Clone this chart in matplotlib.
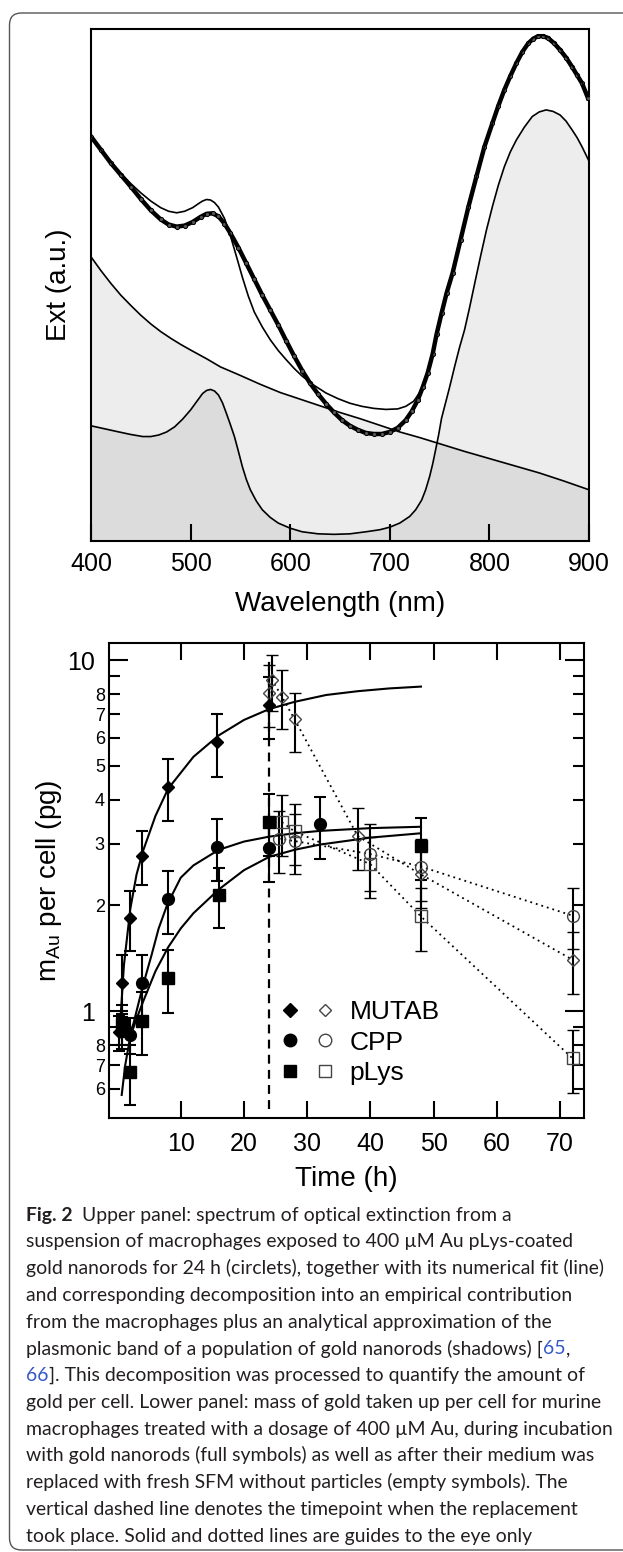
import matplotlib
matplotlib.use("Agg")
import matplotlib.pyplot as plt
import matplotlib.ticker as mticker
from matplotlib.lines import Line2D
from matplotlib.legend_handler import HandlerTuple
from matplotlib.patches import FancyBboxPatch
from matplotlib.transforms import IdentityTransform

plt.rcParams['font.family'] = ['Liberation Sans', 'DejaVu Sans']
plt.rcParams['mathtext.default'] = 'regular'

# ---------------- upper panel: extinction spectrum (a.u., 0 = frame bottom, 1 = frame top)
wl_data = [400, 410, 420, 430, 440, 450, 460, 470, 478, 486, 494, 502, 510, 516, 522, 528,
           534, 540, 548, 556, 564, 572, 580, 588, 596, 604, 612, 620, 628, 636, 644, 652,
           660, 668, 676, 684, 692, 700, 708, 716, 722, 728, 733, 738, 743, 747, 752, 757,
           763, 771, 779, 787, 795, 803, 809, 815, 821, 827, 833, 839, 844, 849, 854, 859,
           865, 871, 877, 883, 888, 893, 899]
ext_data = [0.790, 0.764, 0.738, 0.715, 0.692, 0.668, 0.646, 0.628, 0.618, 0.614, 0.616, 0.623,
            0.633, 0.639, 0.640, 0.634, 0.620, 0.601, 0.573, 0.542, 0.511, 0.480, 0.451, 0.422,
            0.391, 0.361, 0.333, 0.308, 0.287, 0.268, 0.251, 0.236, 0.225, 0.217, 0.211, 0.209,
            0.209, 0.213, 0.221, 0.236, 0.253, 0.275, 0.300, 0.328, 0.365, 0.404, 0.445, 0.484,
            0.523, 0.588, 0.653, 0.712, 0.770, 0.816, 0.850, 0.881, 0.908, 0.933, 0.955, 0.972,
            0.981, 0.986, 0.986, 0.982, 0.972, 0.959, 0.944, 0.926, 0.910, 0.894, 0.865]

wl_fit = [400, 410, 420, 430, 440, 450, 460, 470, 478, 486, 494, 502, 508, 512, 516, 520, 524,
          528, 534, 540, 546, 552, 558, 564, 572, 580, 588, 596, 604, 612, 624, 636, 648, 660,
          672, 684, 696, 708, 716, 724, 730, 736, 742, 747, 752, 757, 763, 771, 779, 787, 795,
          803, 809, 815, 821, 827, 833, 839, 844, 849, 854, 859, 865, 871, 877, 883, 888, 893, 900]
ext_fit = [0.790, 0.764, 0.740, 0.718, 0.698, 0.680, 0.664, 0.651, 0.644, 0.641, 0.644, 0.651,
           0.659, 0.664, 0.667, 0.666, 0.661, 0.652, 0.630, 0.596, 0.556, 0.515, 0.478, 0.447,
           0.418, 0.393, 0.372, 0.354, 0.337, 0.322, 0.304, 0.289, 0.278, 0.269, 0.263, 0.259,
           0.257, 0.258, 0.263, 0.273, 0.290, 0.316, 0.355, 0.400, 0.443, 0.484, 0.523, 0.588,
           0.653, 0.712, 0.770, 0.816, 0.851, 0.882, 0.910, 0.935, 0.956, 0.973, 0.983, 0.988,
           0.988, 0.985, 0.975, 0.962, 0.947, 0.930, 0.913, 0.896, 0.868]

# empirical macrophage contribution
wl_cell = [400, 410, 420, 430, 440, 450, 460, 470, 480, 490, 500, 516, 530, 548, 570, 590, 610,
           630, 650, 670, 690, 710, 730, 750, 775, 800, 825, 850, 875, 900]
ext_cell = [0.555, 0.528, 0.503, 0.480, 0.460, 0.441, 0.424, 0.409, 0.396, 0.384, 0.373, 0.356,
            0.340, 0.325, 0.306, 0.290, 0.277, 0.264, 0.251, 0.239, 0.226, 0.213, 0.202, 0.190,
            0.175, 0.161, 0.147, 0.133, 0.117, 0.100]

# plasmonic band of the nanorods
wl_rods = [400, 414, 428, 440, 452, 460, 468, 476, 484, 492, 500, 506, 512, 516, 520, 524, 528,
           532, 536, 540, 544, 548, 552, 556, 560, 566, 572, 580, 588, 600, 612, 628, 644, 660,
           676, 690, 700, 710, 720, 726, 732, 736, 740, 743, 746, 749, 752, 756, 760, 765, 770,
           775, 780, 786, 791, 797, 803, 809, 815, 821, 827, 835, 843, 850, 857, 864, 871, 877,
           883, 888, 893, 900]
ext_rods = [0.225, 0.219, 0.213, 0.208, 0.204, 0.204, 0.207, 0.213, 0.223, 0.238, 0.256, 0.272,
            0.288, 0.294, 0.296, 0.293, 0.285, 0.270, 0.249, 0.227, 0.204, 0.175, 0.145, 0.120,
            0.100, 0.078, 0.061, 0.046, 0.035, 0.025, 0.018, 0.014, 0.013, 0.014, 0.018, 0.022,
            0.027, 0.035, 0.048, 0.061, 0.080, 0.100, 0.126, 0.150, 0.178, 0.207, 0.240, 0.270,
            0.300, 0.340, 0.378, 0.412, 0.455, 0.510, 0.555, 0.607, 0.653, 0.695, 0.731, 0.760,
            0.783, 0.808, 0.829, 0.838, 0.842, 0.839, 0.832, 0.820, 0.803, 0.788, 0.770, 0.742]

wl_ticks = [400, 500, 600, 700, 800, 900]

# ---------------- lower panel: gold mass per cell (pg)
t_mut_full = [0.3, 0.7, 1.9, 3.9, 7.9, 15.8, 24]
m_mut_full = [0.87, 1.20, 1.84, 2.77, 4.36, 5.83, 7.44]
e_mut_full = [0.10, 0.24, 0.36, 0.48, 0.87, 1.20, 1.50]

t_cpp_full = [0.7, 1.9, 3.9, 7.9, 15.8, 24, 32]
m_cpp_full = [0.88, 0.855, 1.20, 2.08, 2.94, 2.91, 3.40]
e_cpp_full = [0.10, 0.10, 0.24, 0.42, 0.59, 0.58, 0.68]

t_ply_full = [0.7, 2.0, 3.9, 7.9, 16, 24, 48]
m_ply_full = [0.92, 0.67, 0.94, 1.24, 2.14, 3.45, 2.96]
e_ply_full = [0.12, 0.13, 0.19, 0.25, 0.42, 0.69, 0.59]

t_mut_empty = [24, 24.5, 26, 28, 38, 48, 72]
m_mut_empty = [8.05, 8.75, 7.86, 6.78, 3.15, 2.45, 1.40]
e_mut_empty = [1.60, 1.60, 1.50, 1.30, 0.63, 0.49, 0.28]

t_cpp_empty = [25.5, 28, 40, 48, 72]
m_cpp_empty = [3.10, 3.05, 2.80, 2.58, 1.87]
e_cpp_empty = [0.62, 0.60, 0.60, 0.52, 0.37]

t_ply_empty = [26, 28, 40, 48, 72]
m_ply_empty = [3.45, 3.25, 2.62, 1.86, 0.733]
e_ply_empty = [0.68, 0.65, 0.52, 0.38, 0.15]

# guides to the eye
t_mut_fit = [0.3, 1, 2, 3, 4, 6, 8, 12, 16, 20, 24, 28, 33, 38, 43, 48]
m_mut_fit = [0.86, 1.35, 1.95, 2.45, 2.85, 3.6, 4.3, 5.3, 6.1, 6.75, 7.25, 7.6, 7.95, 8.15, 8.3, 8.4]
t_cpp_fit = [1.8, 2.5, 3, 4, 5.4, 6.5, 7.9, 10, 12, 16, 20, 24, 28, 32, 40, 48]
m_cpp_fit = [0.85, 0.92, 1.0, 1.18, 1.45, 1.72, 2.02, 2.4, 2.6, 2.88, 3.04, 3.14, 3.21, 3.26, 3.32, 3.35]
t_ply_fit = [0.65, 1.2, 2, 3, 4, 6, 8, 10, 12, 16, 20, 24, 28, 32, 40, 48]
m_ply_fit = [0.577, 0.70, 0.845, 0.95, 1.06, 1.30, 1.52, 1.72, 1.90, 2.22, 2.52, 2.75, 2.88, 2.98, 3.12, 3.21]

t_replace = 24
t_ticks = [10, 20, 30, 40, 50, 60, 70]
y_major = [1, 10]
y_major_lab = ['1', '10']
y_minor = [0.6, 0.7, 0.8, 0.9, 2, 3, 4, 5, 6, 7, 8, 9]
y_minor_lab = ['6', '7', '8', '', '2', '3', '4', '5', '6', '7', '8', '']
series_names = ['MUTAB', 'CPP', 'pLys']

caption_lines = [
    [("Fig. 2", 'bold', 'k'), ("Upper panel: spectrum of optical extinction from a", 'normal', 'k')],
    [("suspension of macrophages exposed to 400 \u00b5M Au pLys-coated", 'normal', 'k')],
    [("gold nanorods for 24 h (circlets), together with its numerical fit (line)", 'normal', 'k')],
    [("and corresponding decomposition into an empirical contribution", 'normal', 'k')],
    [("from the macrophages plus an analytical approximation of the", 'normal', 'k')],
    [("plasmonic band of a population of gold nanorods (shadows) [", 'normal', 'k'),
     ("65", 'normal', 'b'), (",", 'normal', 'k')],
    [("66", 'normal', 'b'), ("]. This decomposition was processed to quantify the amount of", 'normal', 'k')],
    [("gold per cell. Lower panel: mass of gold taken up per cell for murine", 'normal', 'k')],
    [("macrophages treated with a dosage of 400 \u00b5M Au, during incubation", 'normal', 'k')],
    [("with gold nanorods (full symbols) as well as after their medium was", 'normal', 'k')],
    [("replaced with fresh SFM without particles (empty symbols). The", 'normal', 'k')],
    [("vertical dashed line denotes the timepoint when the replacement", 'normal', 'k')],
    [("took place. Solid and dotted lines are guides to the eye only", 'normal', 'k')],
]

W, H = 623, 1552
fig = plt.figure(figsize=(W / 100, H / 100), dpi=100)


def axes_px(left, top, right, bottom):
    return fig.add_axes([left / W, 1 - bottom / H, (right - left) / W, (bottom - top) / H])


# ---------------- upper panel
ax1 = axes_px(91, 29, 589, 541)
ax1.fill_between(wl_cell, ext_cell, 0, color='black', alpha=0.07, lw=0, zorder=1)
ax1.fill_between(wl_rods, ext_rods, 0, color='black', alpha=0.07, lw=0, zorder=1)
ax1.plot(wl_cell, ext_cell, color='black', lw=1.2, zorder=2)
ax1.plot(wl_rods, ext_rods, color='black', lw=1.2, zorder=2)
ax1.plot(wl_data, ext_data, color='black', lw=3.2, zorder=3)
ax1.plot(wl_data, ext_data, ls='none', marker='o', ms=3.0, mfc='#555555', mec='#000000',
         mew=0.7, zorder=4)
ax1.plot(wl_fit, ext_fit, color='black', lw=1.2, zorder=5)
ax1.set_xlim(400, 900)
ax1.set_ylim(0, 1)
ax1.set_xticks(wl_ticks)
ax1.set_yticks([])
ax1.tick_params(axis='x', direction='in', length=12.5, width=1.5, labelsize=18, pad=8)
ax1.set_xlabel('Wavelength (nm)', fontsize=20)
ax1.set_ylabel('Ext (a.u.)', fontsize=20)
ax1.xaxis.set_label_coords(0.5, -0.097)
ax1.yaxis.set_label_coords(-0.038, 0.5)
for s in ax1.spines.values():
    s.set_linewidth(1.5)

# ---------------- lower panel
ax2 = axes_px(109, 643, 584, 1118)
ax2.set_yscale('log')

fit_kw = dict(color='black', lw=1.5, zorder=2)
ax2.plot(t_mut_fit, m_mut_fit, **fit_kw)
ax2.plot(t_cpp_fit, m_cpp_fit, **fit_kw)
ax2.plot(t_ply_fit, m_ply_fit, **fit_kw)

dot_kw = dict(color='black', lw=1.3, ls=(0, (1, 2.2)), zorder=2)
ax2.plot(t_mut_empty, m_mut_empty, **dot_kw)
ax2.plot(t_cpp_empty, m_cpp_empty, **dot_kw)
ax2.plot(t_ply_empty, m_ply_empty, **dot_kw)

ax2.axvline(t_replace, ymin=0.02, ymax=0.97, color='black', lw=1.6, ls=(0, (4, 2.8)), zorder=1)

err_kw = dict(ecolor='black', elinewidth=1.5, capsize=4, capthick=1.5, ls='none', zorder=3)
full_kw = dict(color='black', mec='black')
open_kw = dict(mfc='none', mec='#444444', mew=1.0)
ax2.errorbar(t_mut_empty, m_mut_empty, yerr=e_mut_empty, marker='D', ms=6, **open_kw, **err_kw)
ax2.errorbar(t_cpp_empty, m_cpp_empty, yerr=e_cpp_empty, marker='o', ms=8.5, **open_kw, **err_kw)
ax2.errorbar(t_ply_empty, m_ply_empty, yerr=e_ply_empty, marker='s', ms=8, **open_kw, **err_kw)
ax2.errorbar(t_mut_full, m_mut_full, yerr=e_mut_full, marker='D', ms=5.8, **full_kw, **err_kw)
ax2.errorbar(t_cpp_full, m_cpp_full, yerr=e_cpp_full, marker='o', ms=8.5, **full_kw, **err_kw)
ax2.errorbar(t_ply_full, m_ply_full, yerr=e_ply_full, marker='s', ms=8, **full_kw, **err_kw)

ax2.set_xlim(-1.36, 73.8)
ax2.set_ylim(0.496, 11.18)
ax2.set_xticks(t_ticks)
ax2.xaxis.set_minor_locator(mticker.NullLocator())
ax2.yaxis.set_major_locator(mticker.FixedLocator(y_major))
ax2.yaxis.set_major_formatter(mticker.FixedFormatter(y_major_lab))
ax2.yaxis.set_minor_locator(mticker.FixedLocator(y_minor))
ax2.yaxis.set_minor_formatter(mticker.FixedFormatter(y_minor_lab))
ax2.tick_params(which='both', direction='in', top=True, right=True, width=1.5)
ax2.tick_params(axis='x', which='major', length=12.5, labelsize=18, pad=10)
ax2.tick_params(axis='y', which='major', length=13.5, labelsize=18, pad=10)
ax2.tick_params(axis='y', which='minor', length=8, labelsize=13, pad=3)
ax2.set_xlabel('Time (h)', fontsize=20)
ax2.set_ylabel('m$_{Au}$ per cell (pg)', fontsize=20)
ax2.xaxis.set_label_coords(0.5, -0.102)
ax2.yaxis.set_label_coords(-0.095, 0.5)
for s in ax2.spines.values():
    s.set_linewidth(1.5)

markers = ['D', 'o', 's']
full_ms = [7.5, 9, 8.5]
open_ms = [6, 9, 8]
handles = []
for mk, fm, om in zip(markers, full_ms, open_ms):
    h_full = Line2D([], [], ls='none', marker=mk, ms=fm, color='black')
    h_open = Line2D([], [], ls='none', marker=mk, ms=om, mfc='none', mec='#444444', mew=1.0)
    handles.append((h_full, h_open))
ax2.legend(handles, series_names, handler_map={tuple: HandlerTuple(ndivide=None, pad=0)},
           frameon=False, fontsize=19, handlelength=2.65, handletextpad=0.28,
           labelspacing=0.24, loc='center left', bbox_to_anchor=(0.344, 0.1585),
           borderpad=0, borderaxespad=0)

# ---------------- outer rounded border
border = FancyBboxPatch((9.5, 2), 660, 1537, boxstyle='round,pad=0,rounding_size=12',
                        transform=IdentityTransform(), fill=False, ec='#555555', lw=1.0)
fig.add_artist(border)

# ---------------- caption
cap_family = ['Lato', 'DejaVu Sans']
colors = {'k': '#231f20', 'b': '#3558c8'}
renderer = fig.canvas.get_renderer()
probe = fig.text(0, 0, caption_lines[8][0][0], fontsize=10, family=cap_family)
probe_w = probe.get_window_extent(renderer).width
probe.remove()
cap_fs = 10 * 586 / probe_w

for k, runs in enumerate(caption_lines):
    y_px = 1220.7 + k * 26.75
    x_px = 26.0
    for j, (txt, weight, col) in enumerate(runs):
        t = fig.text(x_px / W, 1 - y_px / H, txt, fontsize=cap_fs, family=cap_family,
                     fontweight=weight, color=colors[col], va='baseline', ha='left')
        bb = t.get_window_extent(renderer)
        x_px = bb.x1 + (9 if weight == 'bold' else 0.5)

fig.savefig('out.png', dpi=100)
